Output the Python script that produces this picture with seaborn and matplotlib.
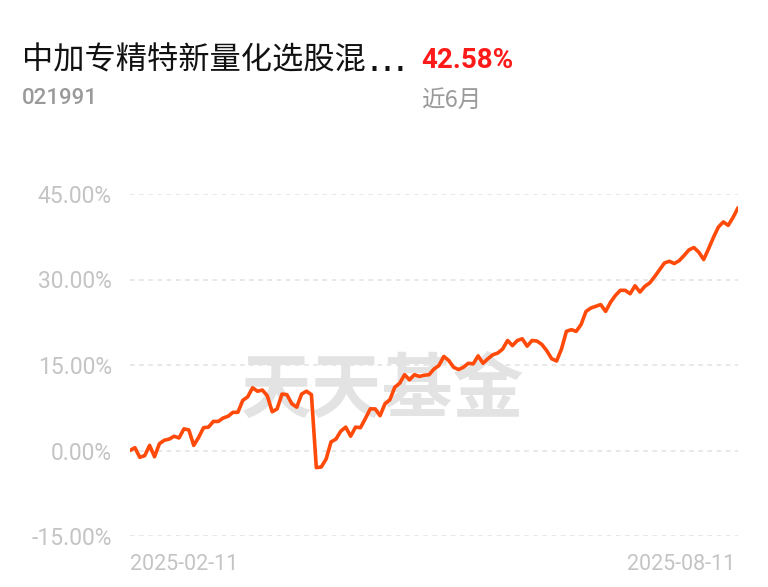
import numpy as np
import pandas as pd
import seaborn as sns
import matplotlib.pyplot as plt

# cumulative return (%) over the last 6 months
returns = [0.0, 0.5, -1.2, -0.9, 0.9, -1.1, 1.2, 1.8, 2.0, 2.5, 2.2, 3.8, 3.6, 0.9,
           2.3, 4.0, 4.1, 5.1, 5.1, 5.7, 6.0, 6.7, 6.7, 8.8, 9.4, 11.0, 10.4, 10.6,
           9.6, 6.8, 7.3, 9.9, 9.8, 8.2, 7.6, 9.9, 10.4, 9.8, -3.0, -2.9, -1.5, 1.5,
           2.0, 3.4, 4.1, 2.5, 4.1, 4.0, 5.6, 7.3, 7.3, 6.1, 8.2, 8.9, 11.1, 11.8,
           13.3, 12.4, 13.3, 13.0, 13.2, 13.3, 14.3, 14.9, 16.5, 15.8, 14.6, 14.2,
           14.6, 15.3, 15.2, 16.6, 15.3, 16.1, 16.8, 17.1, 17.8, 19.3, 18.4, 19.3,
           19.6, 18.3, 19.3, 19.2, 18.6, 17.5, 16.1, 15.7, 17.8, 20.9, 21.2, 20.9,
           22.1, 24.4, 25.0, 25.3, 25.6, 24.4, 26.0, 27.2, 28.1, 28.1, 27.5, 28.9,
           27.8, 28.8, 29.4, 30.5, 31.7, 32.9, 33.2, 32.8, 33.3, 34.2, 35.2, 35.6,
           34.8, 33.5, 35.4, 37.4, 39.2, 40.1, 39.5, 40.9, 42.58]
start_date = "2025-02-11"
end_date = "2025-08-11"
y_ticks = [-15, 0, 15, 30, 45]

fund_name = "中加专精特新量化选股混"
fund_code = "021991"
period = "近6月"
period_return = "42.58%"

df = pd.DataFrame({"day": np.arange(len(returns)), "ret": returns})

sns.set_theme(style="white")
plt.rcParams['font.family'] = ['Roboto', 'Noto Sans CJK SC', 'DejaVu Sans']

fig = plt.figure(figsize=(7.68, 5.87), dpi=100)
ax = fig.add_axes([130/768, 1-536/587, 608/768, 342/587])

# watermark
ax.text(0.416, 0.424, "天天基金", transform=ax.transAxes, ha='center', va='center',
        fontsize=51, color='#e3e3e3', fontweight='heavy',
        family=['Noto Sans CJK SC'], zorder=0)

sns.lineplot(data=df, x="day", y="ret", ax=ax, color='#ff4a0a', linewidth=2.6,
             zorder=3)

ax.set_xlim(0, len(returns) - 1)
ax.set_ylim(-15, 45)
ax.set_yticks(y_ticks)
ax.set_yticklabels([f"{v:.2f}%" for v in y_ticks], color='#c4c4c4', fontsize=16.5)
ax.tick_params(axis='y', length=0, pad=13)
ax.set_xticks([])
ax.set_xlabel("")
ax.set_ylabel("")
for s in ax.spines.values():
    s.set_visible(False)
for v in y_ticks:
    ax.axhline(v, color='#e2e2e2', linewidth=1.1, linestyle=(0, (3, 3)), zorder=1)

ax.text(0.0, -0.083, start_date, transform=ax.transAxes, ha='left', va='center',
        fontsize=15.5, color='#c4c4c4')
ax.text(0.995, -0.083, end_date, transform=ax.transAxes, ha='right', va='center',
        fontsize=15.5, color='#c4c4c4')

# header
fig.text(22/768, 1-60/587, fund_name, ha='left', va='center', fontsize=22.5,
         color='#111111', family=['Noto Sans CJK SC', 'DejaVu Sans'])
fig.text(368/768, 1-60/587, "\u2026", ha='left', va='center', fontsize=28,
         color='#111111', family=['DejaVu Sans'])
fig.text(421/768, 1-60/587, period_return, ha='left', va='center', fontsize=20,
         color='#ff1a1a', fontweight='semibold')
fig.text(22/768, 1-99/587, fund_code, ha='left', va='center', fontsize=16,
         color='#9a9a9a', fontweight='medium')
fig.text(421/768, 1-100/587, period, ha='left', va='center', fontsize=17,
         color='#9a9a9a', family=['Noto Sans CJK SC', 'DejaVu Sans'])

fig.savefig("out.png", dpi=100, facecolor='white')
